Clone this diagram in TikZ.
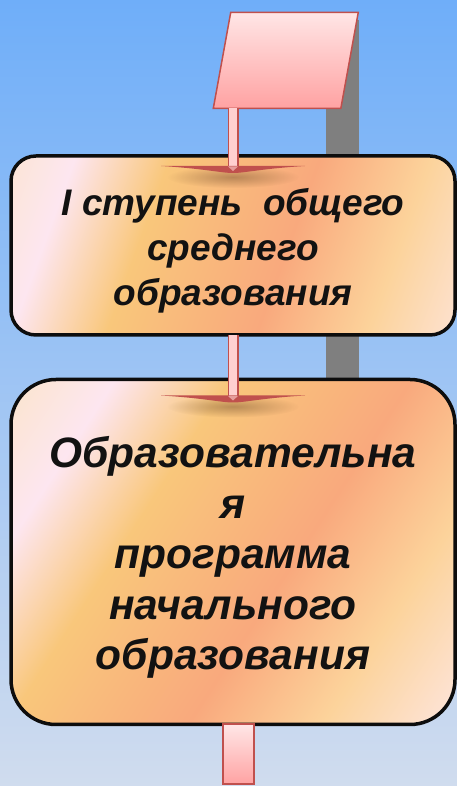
\documentclass[tikz,border=0pt]{standalone}
\usepackage{fontspec}
\setmainfont{Liberation Sans}
\usetikzlibrary{positioning, shapes.geometric, fadings}

\definecolor{skytop}{HTML}{6FAEF9}
\definecolor{skymid}{HTML}{96C7F8}
\definecolor{skybot}{HTML}{D0DCEE}
\definecolor{boxcream}{HTML}{FBE5CF}
\definecolor{boxpink}{HTML}{FDE6F0}
\definecolor{boxyellow}{HTML}{F9C77B}
\definecolor{boxsalmon}{HTML}{F9A97D}
\definecolor{boxorange}{HTML}{FCD39B}
\definecolor{boxpeach}{HTML}{FDE4D9}
\definecolor{rosetop}{HTML}{FFE6E6}
\definecolor{rosebot}{HTML}{FFA2A2}
\definecolor{roseline}{HTML}{C0504D}
\definecolor{stemfill}{HTML}{FFD0D0}
\definecolor{postgray}{HTML}{7F7F7F}
\definecolor{dimbrown}{HTML}{6E4A2A}

\pgfdeclarehorizontalshading{sunset}{100bp}{color(0bp)=(boxcream); color(16bp)=(boxcream); color(26bp)=(boxpink); color(38bp)=(boxyellow); color(57bp)=(boxsalmon); color(71bp)=(boxorange); color(84bp)=(boxpeach); color(100bp)=(boxpeach)}
\tikzfading[name=softspot, inner color=transparent!55, outer color=transparent!100]

\tikzset{
x=1pt, y=1pt, % one unit is one pixel of the picture
stagebox/.style={rectangle, draw=black!95, line width=3.5pt, shade, shading=sunset,
  minimum width=444pt, outer sep=0pt, align=center, text=black!93}, % the two big boxes
rose/.style={draw=roseline, line width=1.5pt, top color=rosetop, bottom color=rosebot,
  inner sep=2pt, outer sep=0pt}, % pink parts
feed/.style={line width=11pt, draw=roseline, shorten >=6pt,
  postaction={draw=stemfill, line width=8pt}}, % stem of an arrow into a box
head/.pic={
  \fill[dimbrown, path fading=softspot] (0,-4) ellipse (66 and 11); % soft shadow
  \fill[roseline] (-72,7) -- (72,7) .. controls (30,4.5) and (12,0) .. (0,0)
    .. controls (-12,0) and (-30,4.5) .. (-72,7) -- cycle;
  \fill[stemfill!60!roseline] (-5,6.5) -- (5,6.5) -- (0,2) -- cycle;
}, % flat wide arrow head
}

\begin{document}
\begin{tikzpicture}
        \useasboundingbox (0,0) rectangle (457,786);
        \shade[top color=skytop, middle color=skymid, bottom color=skybot] (0,0) rectangle (457,786);
        \fill[postgray] (326,386) rectangle (359,766);

        \node[stagebox, rounded corners=25pt, minimum height=179pt, shading angle=-20,
          font=\fontsize{37}{45}\selectfont\bfseries\itshape] (stage) at (233,540.5)
          {\rule{0pt}{38pt}I ступень \ общего\\среднего\\образования};
        \node[stagebox, rounded corners=45pt, minimum height=345pt, shading angle=-33,
          font=\fontsize{42.5}{50.5}\selectfont\bfseries\itshape, below=44.5pt of stage] (program)
          {\rule{0pt}{42pt}Образовательна\\я\\программа\\начального\\образования};
        \node[rose, trapezium, trapezium left angle=81, trapezium right angle=99,
          trapezium stretches=true, minimum width=145pt, minimum height=96pt,
          above=47.7pt of stage, xshift=52.8pt] (sign) {};
        \node[rose, line width=2pt, minimum width=31pt, minimum height=60pt,
          below=0pt of program, xshift=5.5pt] (tail) {};

        \coordinate (tip1) at ([yshift=-17pt]stage.north);
        \coordinate (tip2) at ([yshift=-23pt]program.north);
        \draw[feed] (sign.south -| stage.north) -- (tip1);
        \draw[feed] (stage.south) -- (tip2);
        \pic at (tip1) {head};
        \pic at (tip2) {head};
\end{tikzpicture}
\end{document}
